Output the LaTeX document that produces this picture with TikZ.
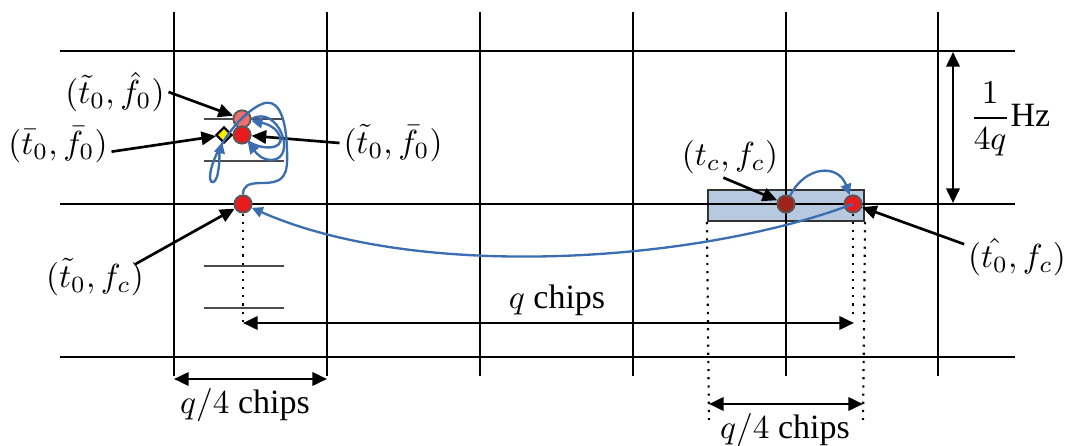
\documentclass[tikz,border=0pt]{standalone}
\usepackage{fontspec}
\setmainfont{Liberation Serif}
\usetikzlibrary{arrows.meta,shapes.geometric,calc}
\definecolor{cblue}{RGB}{58,110,176}
\definecolor{cred}{RGB}{232,28,30}
\definecolor{cpink}{RGB}{240,110,110}
\definecolor{cdark}{RGB}{160,35,25}
\definecolor{crect}{RGB}{183,201,223}
\definecolor{cyel}{RGB}{252,240,0}
\begin{document}
\begin{tikzpicture}[x=0.3pt,y=-0.3pt,
  gridline/.style={line width=0.7pt},
  tick/.style={line width=0.75pt, draw=black!70},
  dotn/.style={circle, draw=black!65, line width=0.55pt, minimum size=5.2pt, inner sep=0pt},
  lbl/.style={font=\fontsize{10.2}{12}\selectfont, inner sep=0pt},
  pt/.style={-{Triangle[length=4.4pt,width=4pt]}, line width=0.8pt},
  dbl/.style={{Triangle[length=4.4pt,width=4pt]}-{Triangle[length=4.4pt,width=4pt]}, line width=0.8pt},
  bl/.style={draw=cblue, line width=0.7pt, -{Triangle[length=3.3pt,width=3.2pt]}},
  dots/.style={line width=0.65pt, dash pattern=on 0.65pt off 1.8pt}]
\useasboundingbox (0,0) rectangle (1066,446);
% rectangle
\node[draw=black!80, fill=crect, line width=0.65pt, minimum width=46.8pt, minimum height=9.3pt, inner sep=0pt] (rect) at (786,205.5) {};
% grid
\foreach \x in {174,327,480,633,786,938} \draw[gridline] (\x,12) -- (\x,376);
\foreach \y in {51,204,357} \draw[gridline] (60,\y) -- (1015,\y);
% small grey ticks
\foreach \y in {119,161,266,308} \draw[tick] (204,\y) -- (284,\y);
% points
\node[dotn, fill=cpink] (c1) at (242,119) {};
\node[dotn, fill=cred] (c2) at (242,135) {};
\node[diamond, draw=black, fill=cyel, line width=0.65pt, minimum size=4.8pt, inner sep=0pt] (dia) at (224,135) {};
\node[dotn, fill=cred] (c3) at (243,204) {};
\node[dotn, fill=cdark] (c4) at (786,204) {};
\node[dotn, fill=cred] (c5) at (853,204) {};
% coordinates
\coordinate (qa) at (243,323);
\coordinate (qb) at (854,323);
\coordinate (qbt) at (853,318);
\coordinate (hza) at (953,52);
\coordinate (hzb) at (953,203);
\coordinate (la) at (174,379);
\coordinate (lb) at (327,379);
\coordinate (ra) at (709,404);
\coordinate (rb) at (863,404);
\coordinate (rat) at (709,420);
\coordinate (rbt) at (863,420);
% dotted
\draw[dots] (c3.south) -- (qa);
\draw[dots] (c5.south) -- (qbt);
\draw[dots] (rect.south west) -- (rat);
\draw[dots] (rect.south east) -- (rbt);
% dimension arrows
\draw[dbl] (qa) -- (qb);
\draw[dbl] (hza) -- (hzb);
\draw[dbl] (la) -- (lb);
\draw[dbl] (ra) -- (rb);
% labels
\node[lbl] (l1) at (115,92) {$(\tilde{t}_0,\hat{f}_0)$};
\node[lbl] (l2) at (58,145) {$(\bar{t}_0,\bar{f}_0)$};
\node[lbl] (l3) at (393,143) {$(\tilde{t}_0,\bar{f}_0)$};
\node[lbl] (l4) at (95,277) {$(\tilde{t}_0,f_c)$};
\node[lbl] (l5) at (730,157) {$(t_c,f_c)$};
\node[lbl] (l6) at (1017,257) {$(\hat{t_0},f_c)$};
\node[lbl] (hz) at (1010,119) {$\displaystyle\frac{1}{4q}$Hz};
\node[lbl] (qc) at (557,300) {$q$ chips};
\node[lbl] (q4l) at (245,405) {$q/4$ chips};
\node[lbl] (q4r) at (785,430) {$q/4$ chips};
% label arrows
\draw[pt] ([xshift=1pt]l1.east) -- (c1);
\draw[pt] ([xshift=1pt,yshift=-2pt]l2.east) -- (dia);
\draw[pt] ([xshift=-1pt]l3.west) -- (c2);
\draw[pt] ([xshift=-3pt,yshift=-2pt]l4.north east) -- (c3);
\draw[pt] ([xshift=-2pt,yshift=-1pt]l5.south) -- (c4);
\draw[pt] ([xshift=-1pt,yshift=-2pt]l6.north west) -- (c5);
% blue curves
\draw[bl] (c5.center) .. controls (700,262) and (420,282) .. (c3);
\draw[bl] (c4) .. controls (805,166) and (838,163) .. (c5);
\draw[bl] (c3.north) .. controls (243,186) and (248,183) .. (262,183)
  .. controls (285,183) and (288,175) .. (287,150)
  .. controls (286,112) and (276,98) .. (262,104)
  .. controls (245,111) and (224,135) .. (214,160)
  .. controls (204,186) and (216,188) .. (218,172)
  .. controls (220,162) and (219,155) .. (dia);
\draw[bl] (c1.east) .. controls (278,104) and (298,158) .. (272,160)
  .. controls (262,160) and (257,154) .. (c2);
\draw[bl] (c2.south east) .. controls (262,150) and (284,150) .. (280,137)
  .. controls (277,128) and (268,124) .. (c1);
\end{tikzpicture}
\end{document}
